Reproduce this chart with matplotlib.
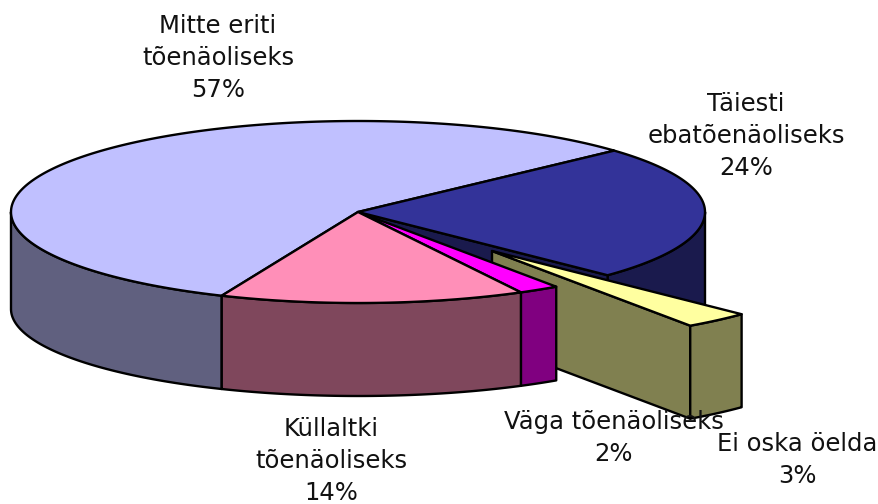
import numpy as np
import matplotlib
matplotlib.use("Agg")
import matplotlib.pyplot as plt

labels = ["Mitte eriti\ntõenäoliseks", "Täiesti\nebatõenäoliseks", "Ei oska öelda", "Väga tõenäoliseks", "Küllaltki\ntõenäoliseks"]
# estimated shares, the labels show them rounded
shares = [56.8, 24.0, 3.1, 1.9, 14.2]
top_colors = ["#c0c0ff", "#333399", "#ffffa0", "#ff00ff", "#ff8fb8"]
side_colors = ["#60607f", "#1a1a4d", "#808050", "#800080", "#7f475c"]
label_pos = [(218, 58), (746, 136), (797, 460), (614, 438), (331, 461)]

# pie geometry, in pixels of the picture
cx, cy = 358, 212
rx, ry = 347, 91
depth = 97
ry_bottom = 87  # the lower rim looks a little flatter
start = 42.4
explode = (134, 39)
explode_depth = 93
lw = 1.7


def arc(a0, a1, dx=0, dy=0, yr=ry):
    t = np.radians(np.linspace(a0, a1, 200))
    return np.c_[cx + dx + rx * np.cos(t), cy + dy - yr * np.sin(t)]


def shape(pts, color, z):
    ax.fill(*np.asarray(pts).T, fc=color, ec="black", lw=lw, zorder=z, joinstyle="round")


def side_wall(a0, a1, color, z):
    # only the front half of the rim can be seen
    lo, hi = max(a0, -180), min(a1, 0)
    if lo >= hi:
        return
    top = arc(lo, hi)
    bottom = arc(lo, hi, dy=depth, yr=ry_bottom)
    shape(np.r_[top, bottom[::-1]], color, z)


fig = plt.figure(figsize=(8.79, 5.04), dpi=100)
ax = fig.add_axes([0, 0, 1, 1])
ax.set_xlim(0, 879)
ax.set_ylim(504, 0)
ax.axis("off")

# go clockwise from the start angle; the 57% slice runs the other way round
angles = {0: (start, start + shares[0] * 3.6)}
a = start
for i in [1, 2, 3, 4]:
    angles[i] = (a - shares[i] * 3.6, a)
    a -= shares[i] * 3.6

# back parts first
side_wall(angles[0][0] - 360, angles[0][1] - 360, side_colors[0], 1)
side_wall(*angles[1], side_colors[1], 1)
center = np.array([cx, cy])
rim = arc(angles[1][0], angles[1][0])[0]
down = np.array([0, depth])
shape([center, rim, rim + down, center + down], side_colors[1], 1.5)

# the pulled out slice sits behind the magenta and pink slices
a0, a1 = angles[2]
dx, dy = explode
p0 = arc(a0, a0, dx, dy)[0]
apex = center + [dx, dy]
down2 = np.array([0, explode_depth])
shape([apex, p0, p0 + down2, apex + down2], side_colors[2], 2)
edge = arc(a0, a1, dx, dy)
shape(np.r_[edge, edge[::-1] + down2], side_colors[2], 2)
shape(np.r_[[apex], edge], top_colors[2], 2.5)

for i in [3, 4]:
    side_wall(*angles[i], side_colors[i], 3)

for i in [0, 1, 3, 4]:
    shape(np.r_[[center], arc(*angles[i])], top_colors[i], 3)

for name, share, (x, y) in zip(labels, shares, label_pos):
    ax.text(x, y, f"{name}\n{round(share)}%", ha="center", va="center", fontsize=17.5,
            color="#111111", linespacing=1.42, zorder=5)

fig.savefig("out.png", dpi=100)
